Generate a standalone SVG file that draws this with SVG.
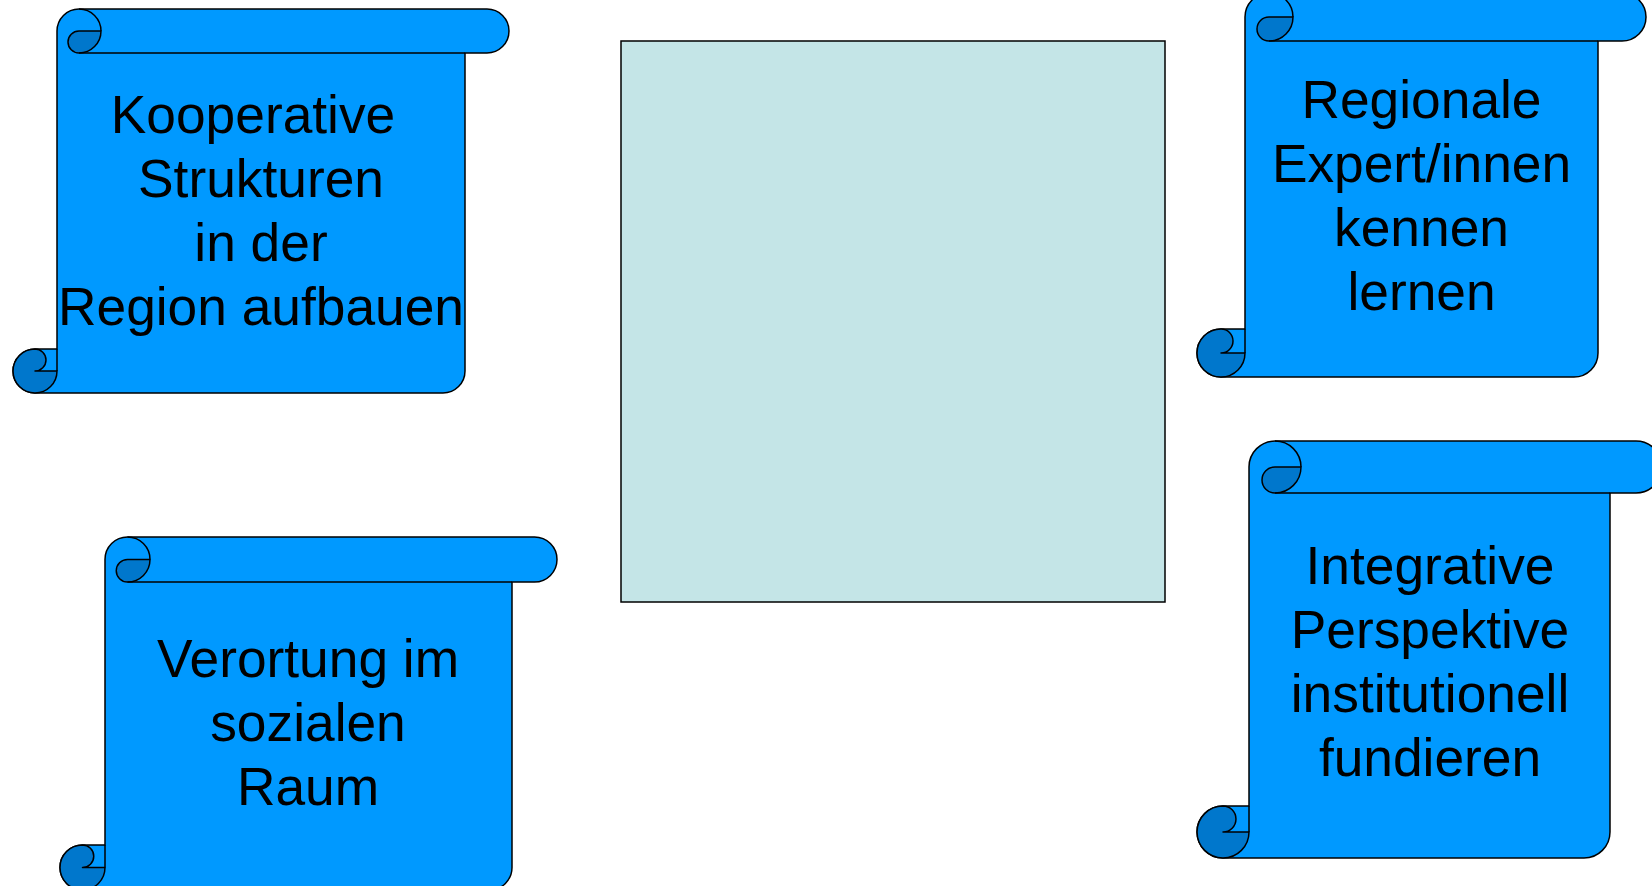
<svg xmlns="http://www.w3.org/2000/svg" width="1652" height="886" viewBox="0 0 1652 886">
<style>
.main{fill:#0099FF;stroke:#000;stroke-width:1.5;stroke-linejoin:round}
.dark{fill:#0077CC;stroke:#000;stroke-width:1.5;stroke-linejoin:round}
.ln{fill:none;stroke:#000;stroke-width:1.5}
.box{fill:#C4E5E7;stroke:#000;stroke-width:1.5}
.t{font-family:"Liberation Sans",Arial,sans-serif;font-size:53.3px;fill:#000;text-anchor:middle}
</style>
<rect width="1652" height="886" fill="#fff"/>
<g id="center-box">
<rect class="box" x="621" y="41" width="544" height="561"/>
</g>
<g id="scroll-kooperative">
<path class="main" d="M 57 31 A 22 22 0 0 1 79 9 L 487 9 A 22 22 0 0 1 487 53 L 465 53 L 465 371 A 22 22 0 0 1 443 393 L 35 393 A 22 22 0 0 1 35 349 L 57 349 Z"/>
<path class="dark" d="M 79 31 L 101 31 A 22 22 0 0 1 79 53 A 11 11 0 0 1 79 31 Z"/>
<path class="ln" d="M 79 9 A 22 22 0 0 1 101 31 M 79 53 L 465 53 M 57 349 L 57 371"/>
<path class="dark" d="M 35 349 A 11 11 0 0 1 35 371 L 57 371 A 22 22 0 0 1 35 393 A 22 22 0 0 1 35 349 Z"/>
<text class="t"><tspan x="253" y="133">Kooperative</tspan><tspan x="261" y="197">Strukturen</tspan><tspan x="261" y="261">in der</tspan><tspan x="261" y="325">Region aufbauen</tspan></text>
</g>
<g id="scroll-regionale">
<path class="main" d="M 1245 17 A 24 24 0 0 1 1269 -7 L 1622 -7 A 24 24 0 0 1 1622 41 L 1598 41 L 1598 353 A 24 24 0 0 1 1574 377 L 1221 377 A 24 24 0 0 1 1221 329 L 1245 329 Z"/>
<path class="dark" d="M 1269 17 L 1293 17 A 24 24 0 0 1 1269 41 A 12 12 0 0 1 1269 17 Z"/>
<path class="ln" d="M 1269 -7 A 24 24 0 0 1 1293 17 M 1269 41 L 1598 41 M 1245 329 L 1245 353"/>
<path class="dark" d="M 1221 329 A 12 12 0 0 1 1221 353 L 1245 353 A 24 24 0 0 1 1221 377 A 24 24 0 0 1 1221 329 Z"/>
<text class="t"><tspan x="1421.5" y="118">Regionale</tspan><tspan x="1421.5" y="182">Expert/innen</tspan><tspan x="1421.5" y="246">kennen</tspan><tspan x="1421.5" y="310">lernen</tspan></text>
</g>
<g id="scroll-verortung">
<path class="main" d="M 105 559.5 A 22.5 22.5 0 0 1 127.5 537 L 534.5 537 A 22.5 22.5 0 0 1 534.5 582 L 512 582 L 512 867.5 A 22.5 22.5 0 0 1 489.5 890 L 82.5 890 A 22.5 22.5 0 0 1 82.5 845 L 105 845 Z"/>
<path class="dark" d="M 127.5 559.5 L 150 559.5 A 22.5 22.5 0 0 1 127.5 582 A 11.25 11.25 0 0 1 127.5 559.5 Z"/>
<path class="ln" d="M 127.5 537 A 22.5 22.5 0 0 1 150 559.5 M 127.5 582 L 512 582 M 105 845 L 105 867.5"/>
<path class="dark" d="M 82.5 845 A 11.25 11.25 0 0 1 82.5 867.5 L 105 867.5 A 22.5 22.5 0 0 1 82.5 890 A 22.5 22.5 0 0 1 82.5 845 Z"/>
<text class="t"><tspan x="308" y="677">Verortung im</tspan><tspan x="308" y="741">sozialen</tspan><tspan x="308" y="805">Raum</tspan></text>
</g>
<g id="scroll-integrative">
<path class="main" d="M 1249 467 A 26 26 0 0 1 1275 441 L 1636 441 A 26 26 0 0 1 1636 493 L 1610 493 L 1610 832 A 26 26 0 0 1 1584 858 L 1223 858 A 26 26 0 0 1 1223 806 L 1249 806 Z"/>
<path class="dark" d="M 1275 467 L 1301 467 A 26 26 0 0 1 1275 493 A 13 13 0 0 1 1275 467 Z"/>
<path class="ln" d="M 1275 441 A 26 26 0 0 1 1301 467 M 1275 493 L 1610 493 M 1249 806 L 1249 832"/>
<path class="dark" d="M 1223 806 A 13 13 0 0 1 1223 832 L 1249 832 A 26 26 0 0 1 1223 858 A 26 26 0 0 1 1223 806 Z"/>
<text class="t"><tspan x="1430" y="584">Integrative</tspan><tspan x="1430" y="648">Perspektive</tspan><tspan x="1430" y="712">institutionell</tspan><tspan x="1430" y="776">fundieren</tspan></text>
</g>
<g id="connectors"></g>
</svg>
